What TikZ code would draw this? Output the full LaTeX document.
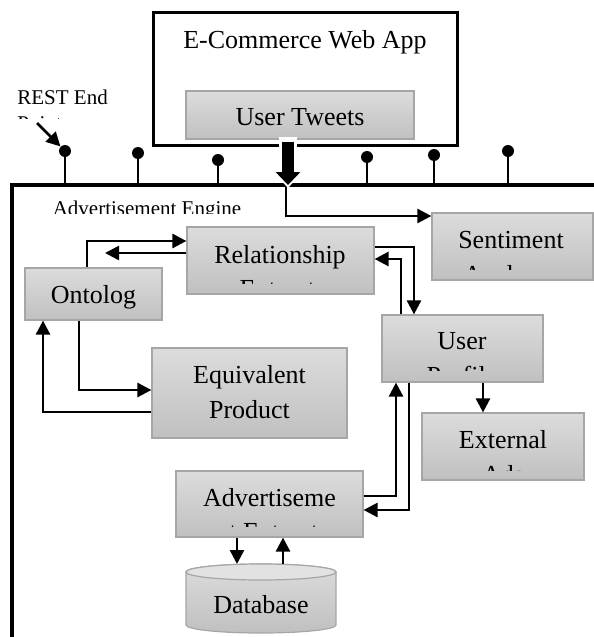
\documentclass[tikz,border=0pt]{standalone}
\usepackage{fontspec}
\setmainfont{Liberation Serif}
\usetikzlibrary{arrows.meta,calc}
\definecolor{boxtop}{HTML}{DCDCDC}
\definecolor{boxbot}{HTML}{C0C0C0}
\definecolor{boxline}{HTML}{A6A6A6}
\definecolor{dbtopc}{HTML}{E2E2E2}
\begin{document}
\begin{tikzpicture}[x=0.5pt,y=-0.5pt,
  gbox/.style={draw=boxline, line width=0.6pt, top color=boxtop, bottom color=boxbot, inner sep=0pt},
  txt/.style={font=\fontsize{13}{15}\selectfont, inner sep=0pt, anchor=base},
  small/.style={font=\fontsize{10.5}{12}\selectfont, inner sep=0pt, anchor=base west},
  arr/.style={line width=1.3pt, -{Triangle[length=7pt,width=7pt]}},
  stem/.style={line width=0.8pt},
  pinhead/.style={circle, fill=black, minimum size=6pt, inner sep=0pt}
]
\useasboundingbox (0,0) rectangle (594,637);

% E-Commerce Web App
\node[draw, line width=1.5pt, minimum width=152pt, minimum height=66.5pt, inner sep=0pt] (ecom) at (305,78.5) {};
\node[txt] (ecomt) at (305,48) {E-Commerce Web App};
\node[gbox, minimum width=114pt, minimum height=24pt] (tweets) at (300,115) {};
\node[txt] (tweetst) at (300,125) {User Tweets};

% Advertisement Engine frame
\coordinate (engtl) at (12,185);
\coordinate (engtr) at (600,185);
\coordinate (engbl) at (12,640);
\draw[line width=1.6pt] (engtr) -- (engtl) -- (engbl);
\begin{scope}
  \clip (16,190) rectangle (330,213);
  \node[small, anchor=base] (englbl) at (147,215) {Advertisement Engine};
\end{scope}

% REST end points
\node[pinhead] (p1) at (65,151) {};
\node[pinhead] (p2) at (138,153) {};
\node[pinhead] (p3) at (218,160) {};
\node[pinhead] (p4) at (367,157) {};
\node[pinhead] (p5) at (434,155) {};
\node[pinhead] (p6) at (508,151) {};
\foreach \p in {p1,p2,p3,p4,p5,p6} \draw[stem] (\p) -- (\p |- engtl);
\node[small] (rest1) at (17,104) {REST End};
\begin{scope}
  \clip (10,108) rectangle (130,118);
  \node[small] (rest2) at (17,130) {Points};
\end{scope}
\coordinate (rs) at (37,123);
\draw[arr] (rs) -- (p1);

% Boxes
\node[gbox, minimum width=80.5pt, minimum height=33.5pt] (sent) at (512.5,246.5) {};
\node[txt] (sentt) at (511,248) {Sentiment};
\begin{scope}
  \clip (432,255) rectangle (593,269);
  \node[txt] (sentt2) at (511,283) {Analyzer};
\end{scope}

\node[gbox, minimum width=93.5pt, minimum height=33.5pt] (rel) at (280.5,260.5) {};
\node[txt] (relt) at (280,263) {Relationship};
\begin{scope}
  \clip (187,268) rectangle (374,283);
  \node[txt] (relt2) at (288,297) {Extractor};
\end{scope}

\node[gbox, minimum width=68.5pt, minimum height=26pt] (onto) at (93.5,294) {};
\node[txt] (ontot) at (93.5,303) {Ontolog};

\node[gbox, minimum width=97.5pt, minimum height=45pt] (equiv) at (249.5,393) {};
\node[txt] (equivt) at (249.5,383) {Equivalent};
\node[txt] (equivt2) at (249.5,418) {Product};

\node[gbox, minimum width=80.5pt, minimum height=33.5pt] (prof) at (462.5,348.5) {};
\node[txt] (proft) at (462,349) {User};
\begin{scope}
  \clip (382,355) rectangle (543,370);
  \node[txt] (proft2) at (462,384) {Profile};
\end{scope}

\node[gbox, minimum width=81pt, minimum height=33.5pt] (ext) at (503,446.5) {};
\node[txt] (extt) at (503,448) {External};
\begin{scope}
  \clip (423,455) rectangle (583,470);
  \node[txt] (extt2) at (503,483) {Ads};
\end{scope}

\node[gbox, minimum width=93.5pt, minimum height=33pt] (adv) at (269.5,504) {};
\node[txt] (advt) at (269.5,506) {Advertiseme};
\begin{scope}
  \clip (176,512) rectangle (363,526);
  \node[txt] (advt2) at (278,540) {nt Extractor};
\end{scope}

% Database cylinder
\coordinate (dbtop) at (261,564);
\path[draw=boxline, line width=0.6pt, top color=boxtop, bottom color=boxbot]
  (186,572) -- (186,625) arc[start angle=180, end angle=360, x radius=37.5pt, y radius=4pt]
  -- (336,572) arc[start angle=0, end angle=180, x radius=37.5pt, y radius=4pt] -- cycle;
\path[draw=boxline, line width=0.6pt, fill=dbtopc]
  (186,572) arc[start angle=180, end angle=360, x radius=37.5pt, y radius=4pt]
  arc[start angle=0, end angle=180, x radius=37.5pt, y radius=4pt] -- cycle;
\node[txt] (db) at (261,613) {Database};

% Tweets to engine
\coordinate (twb) at ([xshift=-6pt]tweets.south);
\coordinate (twe) at (twb |- engtl);
\draw[arr] ([xshift=-1pt]twe) |- ([yshift=15.25pt]sent.west);
\draw[white, line width=9pt, -{Triangle[length=9pt,width=16pt]}] ([yshift=1.5pt]twb) -- ([yshift=-1.5pt]twe);
\draw[black, line width=6pt, -{Triangle[length=6.5pt,width=12pt]}] ([yshift=-1pt]twb) -- (twe);

% Connectors
\draw[arr] ([xshift=-3.25pt]onto.north) |- ([yshift=9.75pt]rel.west);
\coordinate (ret) at (105,253);
\draw[arr] ([yshift=3.75pt]rel.west) -- (ret);
\draw[arr] ([xshift=-7.25pt]onto.south) |- ([yshift=1.5pt]equiv.west);
\draw[arr] ([yshift=-9.5pt]equiv.west) -| ([xshift=-25.25pt]onto.south);
\draw[arr] ([yshift=6.75pt]rel.east) -| ([xshift=-24.25pt]prof.north);
\draw[arr] ([xshift=-30.75pt]prof.north) |- ([yshift=0.75pt]rel.east);
\coordinate (pe) at ([xshift=10.25pt]prof.south);
\draw[arr] (pe) -- (pe |- ext.north);
\draw[arr] ([yshift=4pt]adv.east) -| ([xshift=-33.25pt]prof.south);
\draw[arr] ([xshift=-26.75pt]prof.south) |- ([yshift=-3pt]adv.east);
\coordinate (a1) at ([xshift=-16.25pt]adv.south);
\draw[arr] (a1) -- (a1 |- dbtop);
\coordinate (a2) at ([xshift=6.75pt]adv.south);
\draw[arr] (a2 |- dbtop) -- (a2);
\end{tikzpicture}
\end{document}
